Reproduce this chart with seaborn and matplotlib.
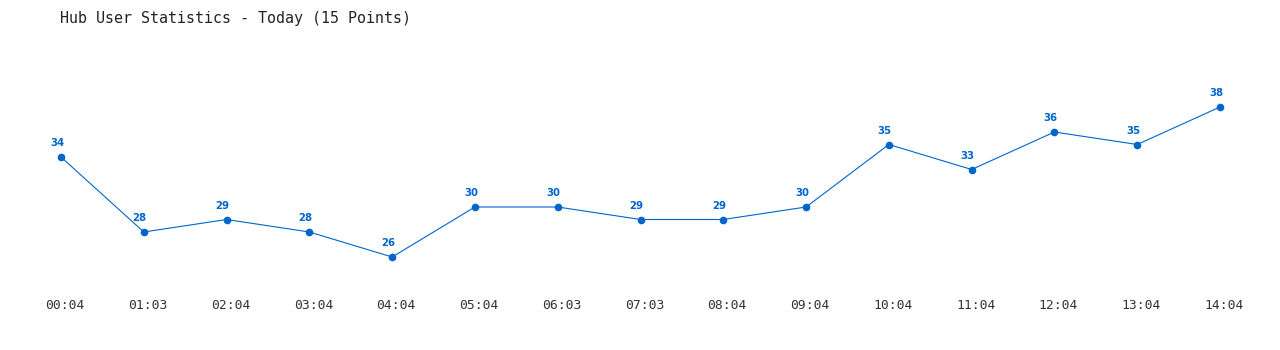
import matplotlib
matplotlib.use("Agg")
import matplotlib.pyplot as plt
import matplotlib.transforms as mtransforms
import seaborn as sns
import pandas as pd

times = ["00:04", "01:03", "02:04", "03:04", "04:04", "05:04", "06:03", "07:03",
         "08:04", "09:04", "10:04", "11:04", "12:04", "13:04", "14:04"]
users = [34, 28, 29, 28, 26, 30, 30, 29, 29, 30, 35, 33, 36, 35, 38]
title = "Hub User Statistics - Today (15 Points)"

sns.set_style("white")
plt.rcParams["font.family"] = ["DejaVu Sans"]

df = pd.DataFrame({"pos": list(range(len(times))), "users": users})

fig = plt.figure(figsize=(12.8, 3.5), dpi=100)
W, H = 1280, 350
left_px, right_px = 19.6, 1261.4
top_px, bot_px = 57, 294.5
ax = fig.add_axes([left_px / W, (H - bot_px) / H, (right_px - left_px) / W, (bot_px - top_px) / H])

color = "#0066cc"
sns.lineplot(data=df, x="pos", y="users", ax=ax, color=color, linewidth=0.8,
             marker="o", markersize=5.5, markeredgewidth=0, markerfacecolor=color)

for p, v in zip(df["pos"], df["users"]):
    ax.annotate(str(v), (p, v), xytext=(-2.9, 7.7), textcoords="offset points",
                ha="center", va="baseline", fontsize=7.3, fontweight="bold",
                color=color, family="DejaVu Sans")

ax.set_xlim(-0.5, len(times) - 0.5)
ax.set_ylim(23, 42)
ax.set_xticks(list(range(len(times))))
ax.set_xticklabels(times, family="DejaVu Sans Mono", fontsize=9.4, color="#333333")
ax.set_yticks([])
ax.tick_params(axis="x", length=0, pad=3)
shift = mtransforms.ScaledTranslation(4 / 100, 0, fig.dpi_scale_trans)
for lbl in ax.get_xticklabels():
    lbl.set_transform(lbl.get_transform() + shift)
ax.set_xlabel("")
ax.set_ylabel("")
for s in ax.spines.values():
    s.set_visible(False)

fig.text(60 / W, 1 - 18 / H, title, family="DejaVu Sans Mono", fontsize=10.8,
         color="#222222", ha="left", va="center")

fig.savefig("out.png", dpi=100)
